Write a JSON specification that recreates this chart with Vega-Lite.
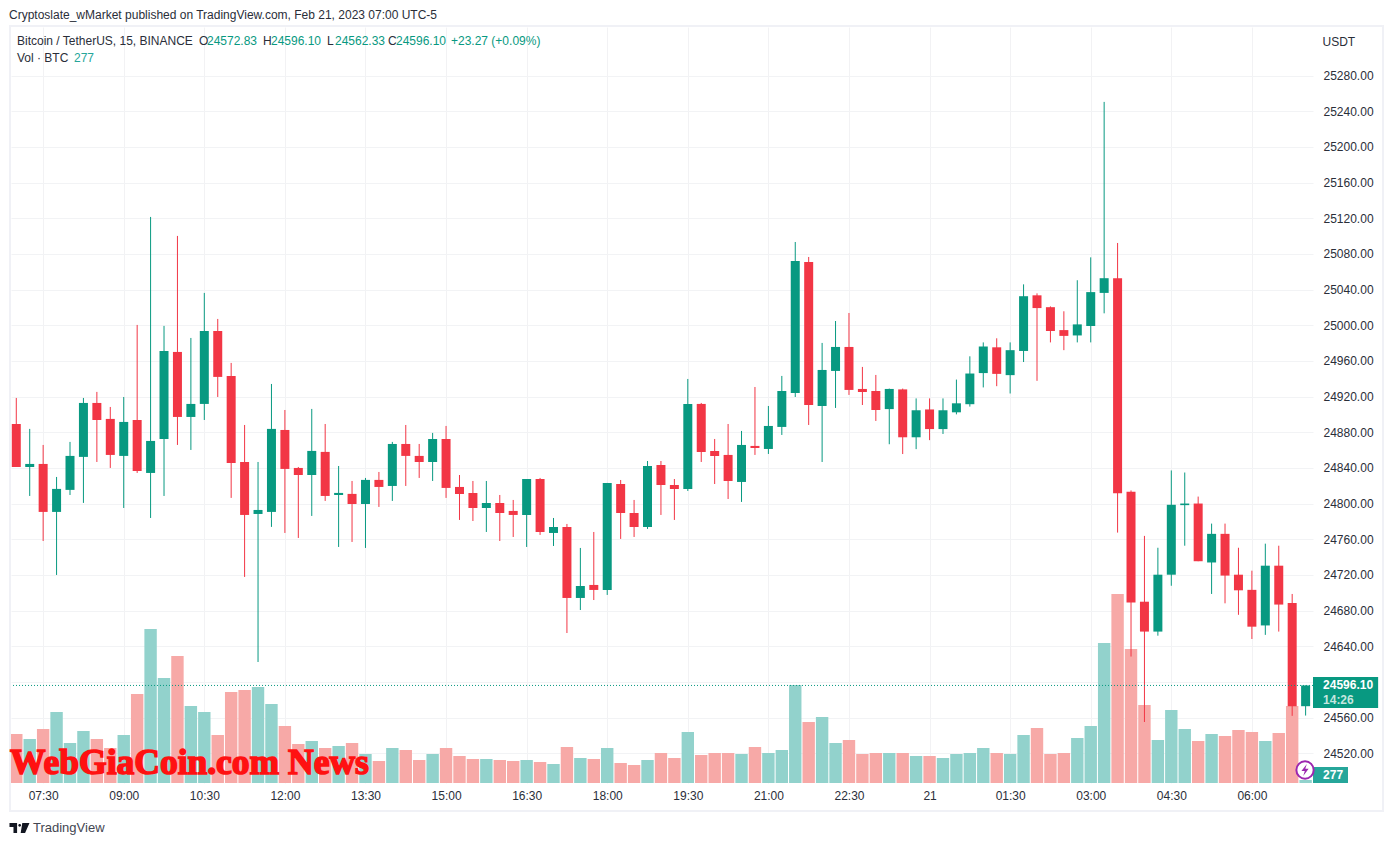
{"$schema":"https://vega.github.io/schema/vega-lite/v6.json","autosize":{"type":"none"},"padding":{"left":11,"top":27,"right":80,"bottom":63},"width":1302,"height":756,"background":"#ffffff","title":{"text":"Cryptoslate_wMarket published on TradingView.com, Feb 21, 2023 07:00 UTC-5","anchor":"start","frame":"group","offset":3,"dx":-2,"fontSize":12,"fontWeight":"normal","font":"Liberation Sans","color":"#2a2e39"},"config":{"view":{"stroke":null},"font":"Liberation Sans","axis":{"labelOverlap":false}},"datasets":{"candles":[
{"t":"2023-02-20T07:00:00Z","o":24889.3,"h":24918.5,"l":24841.1,"c":24841.1,"v":4508,"dir":"down"},
{"t":"2023-02-20T07:15:00Z","o":24841.1,"h":24883.8,"l":24808.6,"c":24844.5,"v":4048,"dir":"up"},
{"t":"2023-02-20T07:30:00Z","o":24844.5,"h":24865.8,"l":24758.1,"c":24790.7,"v":4968,"dir":"down"},
{"t":"2023-02-20T07:45:00Z","o":24790.7,"h":24829.9,"l":24720.0,"c":24816.5,"v":6532,"dir":"up"},
{"t":"2023-02-20T08:00:00Z","o":24815.4,"h":24869.2,"l":24809.7,"c":24853.5,"v":3680,"dir":"up"},
{"t":"2023-02-20T08:15:00Z","o":24852.4,"h":24918.5,"l":24800.8,"c":24912.9,"v":4784,"dir":"up"},
{"t":"2023-02-20T08:30:00Z","o":24912.9,"h":24925.3,"l":24846.7,"c":24893.8,"v":4048,"dir":"down"},
{"t":"2023-02-20T08:45:00Z","o":24895.0,"h":24908.4,"l":24840.0,"c":24854.6,"v":3220,"dir":"down"},
{"t":"2023-02-20T09:00:00Z","o":24853.5,"h":24919.6,"l":24795.1,"c":24891.6,"v":4416,"dir":"up"},
{"t":"2023-02-20T09:15:00Z","o":24893.8,"h":25000.4,"l":24834.4,"c":24836.6,"v":8188,"dir":"down"},
{"t":"2023-02-20T09:30:00Z","o":24834.4,"h":25121.5,"l":24783.9,"c":24870.3,"v":14168,"dir":"up"},
{"t":"2023-02-20T09:45:00Z","o":24872.5,"h":24999.3,"l":24808.6,"c":24971.2,"v":9660,"dir":"up"},
{"t":"2023-02-20T10:00:00Z","o":24970.1,"h":25100.2,"l":24865.8,"c":24897.2,"v":11684,"dir":"down"},
{"t":"2023-02-20T10:15:00Z","o":24897.2,"h":24985.8,"l":24860.2,"c":24911.8,"v":7084,"dir":"up"},
{"t":"2023-02-20T10:30:00Z","o":24911.8,"h":25036.3,"l":24893.8,"c":24993.6,"v":6532,"dir":"up"},
{"t":"2023-02-20T10:45:00Z","o":24993.6,"h":25007.1,"l":24919.6,"c":24942.1,"v":4416,"dir":"down"},
{"t":"2023-02-20T11:00:00Z","o":24943.2,"h":24957.8,"l":24806.4,"c":24845.6,"v":8372,"dir":"down"},
{"t":"2023-02-20T11:15:00Z","o":24846.7,"h":24888.2,"l":24717.8,"c":24787.3,"v":8556,"dir":"down"},
{"t":"2023-02-20T11:30:00Z","o":24788.4,"h":24846.7,"l":24622.4,"c":24792.9,"v":8832,"dir":"up"},
{"t":"2023-02-20T11:45:00Z","o":24790.7,"h":24934.2,"l":24773.9,"c":24883.8,"v":7268,"dir":"up"},
{"t":"2023-02-20T12:00:00Z","o":24882.6,"h":24905.0,"l":24767.1,"c":24838.9,"v":5244,"dir":"down"},
{"t":"2023-02-20T12:15:00Z","o":24840.0,"h":24841.1,"l":24761.5,"c":24832.1,"v":3588,"dir":"down"},
{"t":"2023-02-20T12:30:00Z","o":24832.1,"h":24906.2,"l":24786.2,"c":24859.1,"v":3864,"dir":"up"},
{"t":"2023-02-20T12:45:00Z","o":24858.0,"h":24889.3,"l":24803.0,"c":24808.6,"v":3220,"dir":"down"},
{"t":"2023-02-20T13:00:00Z","o":24809.7,"h":24842.2,"l":24751.4,"c":24812.0,"v":3404,"dir":"up"},
{"t":"2023-02-20T13:15:00Z","o":24810.9,"h":24825.4,"l":24757.0,"c":24799.6,"v":3680,"dir":"down"},
{"t":"2023-02-20T13:30:00Z","o":24799.6,"h":24828.8,"l":24750.3,"c":24826.6,"v":2668,"dir":"up"},
{"t":"2023-02-20T13:45:00Z","o":24826.6,"h":24835.5,"l":24796.3,"c":24818.7,"v":2024,"dir":"down"},
{"t":"2023-02-20T14:00:00Z","o":24819.8,"h":24869.2,"l":24803.0,"c":24866.9,"v":3220,"dir":"up"},
{"t":"2023-02-20T14:15:00Z","o":24866.9,"h":24888.2,"l":24819.8,"c":24853.5,"v":3036,"dir":"down"},
{"t":"2023-02-20T14:30:00Z","o":24853.5,"h":24866.9,"l":24828.8,"c":24846.7,"v":2116,"dir":"down"},
{"t":"2023-02-20T14:45:00Z","o":24846.7,"h":24879.3,"l":24825.4,"c":24872.5,"v":2668,"dir":"up"},
{"t":"2023-02-20T15:00:00Z","o":24872.5,"h":24887.1,"l":24806.4,"c":24817.6,"v":3220,"dir":"down"},
{"t":"2023-02-20T15:15:00Z","o":24818.7,"h":24832.1,"l":24781.7,"c":24810.8,"v":2484,"dir":"down"},
{"t":"2023-02-20T15:30:00Z","o":24811.9,"h":24825.4,"l":24780.5,"c":24795.1,"v":2208,"dir":"down"},
{"t":"2023-02-20T15:45:00Z","o":24795.1,"h":24825.4,"l":24768.2,"c":24800.7,"v":2208,"dir":"up"},
{"t":"2023-02-20T16:00:00Z","o":24800.7,"h":24809.7,"l":24758.1,"c":24789.5,"v":2116,"dir":"down"},
{"t":"2023-02-20T16:15:00Z","o":24791.8,"h":24804.1,"l":24762.6,"c":24787.3,"v":2024,"dir":"down"},
{"t":"2023-02-20T16:30:00Z","o":24787.3,"h":24827.6,"l":24751.4,"c":24827.6,"v":2116,"dir":"up"},
{"t":"2023-02-20T16:45:00Z","o":24827.6,"h":24828.8,"l":24764.9,"c":24768.2,"v":1932,"dir":"down"},
{"t":"2023-02-20T17:00:00Z","o":24767.1,"h":24783.9,"l":24752.5,"c":24773.8,"v":1748,"dir":"up"},
{"t":"2023-02-20T17:15:00Z","o":24773.8,"h":24777.2,"l":24654.9,"c":24694.2,"v":3312,"dir":"down"},
{"t":"2023-02-20T17:30:00Z","o":24694.2,"h":24750.3,"l":24680.7,"c":24707.6,"v":2300,"dir":"up"},
{"t":"2023-02-20T17:45:00Z","o":24708.8,"h":24768.2,"l":24691.9,"c":24703.2,"v":2208,"dir":"down"},
{"t":"2023-02-20T18:00:00Z","o":24703.2,"h":24823.2,"l":24697.6,"c":24823.2,"v":3220,"dir":"up"},
{"t":"2023-02-20T18:15:00Z","o":24822.0,"h":24826.5,"l":24760.4,"c":24789.5,"v":1840,"dir":"down"},
{"t":"2023-02-20T18:30:00Z","o":24789.5,"h":24804.1,"l":24762.6,"c":24773.8,"v":1656,"dir":"down"},
{"t":"2023-02-20T18:45:00Z","o":24773.8,"h":24847.8,"l":24771.6,"c":24842.2,"v":2116,"dir":"up"},
{"t":"2023-02-20T19:00:00Z","o":24843.3,"h":24847.8,"l":24787.3,"c":24820.9,"v":2760,"dir":"down"},
{"t":"2023-02-20T19:15:00Z","o":24820.9,"h":24827.6,"l":24781.7,"c":24816.4,"v":2300,"dir":"down"},
{"t":"2023-02-20T19:30:00Z","o":24816.4,"h":24939.8,"l":24814.2,"c":24911.8,"v":4692,"dir":"up"},
{"t":"2023-02-20T19:45:00Z","o":24911.8,"h":24912.9,"l":24846.7,"c":24857.9,"v":2576,"dir":"down"},
{"t":"2023-02-20T20:00:00Z","o":24859.0,"h":24872.5,"l":24822.0,"c":24853.4,"v":2760,"dir":"down"},
{"t":"2023-02-20T20:15:00Z","o":24854.6,"h":24889.3,"l":24805.2,"c":24825.4,"v":2760,"dir":"down"},
{"t":"2023-02-20T20:30:00Z","o":24824.3,"h":24881.5,"l":24801.9,"c":24865.8,"v":2668,"dir":"up"},
{"t":"2023-02-20T20:45:00Z","o":24864.7,"h":24930.8,"l":24854.6,"c":24862.4,"v":3312,"dir":"down"},
{"t":"2023-02-20T21:00:00Z","o":24861.3,"h":24909.5,"l":24855.7,"c":24887.1,"v":2760,"dir":"up"},
{"t":"2023-02-20T21:15:00Z","o":24886.0,"h":24943.2,"l":24877.0,"c":24926.3,"v":3036,"dir":"up"},
{"t":"2023-02-20T21:30:00Z","o":24924.1,"h":25093.4,"l":24919.6,"c":25072.1,"v":9016,"dir":"up"},
{"t":"2023-02-20T21:45:00Z","o":25071.0,"h":25076.6,"l":24888.2,"c":24910.6,"v":5612,"dir":"down"},
{"t":"2023-02-20T22:00:00Z","o":24909.5,"h":24980.2,"l":24846.7,"c":24949.9,"v":6072,"dir":"up"},
{"t":"2023-02-20T22:15:00Z","o":24948.8,"h":25004.8,"l":24907.3,"c":24975.7,"v":3680,"dir":"up"},
{"t":"2023-02-20T22:30:00Z","o":24975.7,"h":25013.8,"l":24921.9,"c":24927.5,"v":3956,"dir":"down"},
{"t":"2023-02-20T22:45:00Z","o":24928.6,"h":24953.3,"l":24910.6,"c":24925.2,"v":2668,"dir":"down"},
{"t":"2023-02-20T23:00:00Z","o":24926.3,"h":24944.3,"l":24892.7,"c":24905.0,"v":2760,"dir":"down"},
{"t":"2023-02-20T23:15:00Z","o":24906.0,"h":24929.0,"l":24866.6,"c":24928.6,"v":2760,"dir":"up"},
{"t":"2023-02-20T23:30:00Z","o":24928.1,"h":24929.0,"l":24855.6,"c":24874.4,"v":2760,"dir":"down"},
{"t":"2023-02-20T23:45:00Z","o":24874.4,"h":24918.0,"l":24861.1,"c":24904.7,"v":2484,"dir":"up"},
{"t":"2023-02-21T00:00:00Z","o":24905.6,"h":24918.0,"l":24871.2,"c":24883.6,"v":2484,"dir":"down"},
{"t":"2023-02-21T00:15:00Z","o":24883.6,"h":24918.0,"l":24878.1,"c":24904.7,"v":2300,"dir":"up"},
{"t":"2023-02-21T00:30:00Z","o":24902.4,"h":24939.1,"l":24900.1,"c":24912.5,"v":2668,"dir":"up"},
{"t":"2023-02-21T00:45:00Z","o":24911.5,"h":24965.2,"l":24908.8,"c":24945.9,"v":2760,"dir":"up"},
{"t":"2023-02-21T01:00:00Z","o":24946.4,"h":24980.8,"l":24930.3,"c":24976.2,"v":3220,"dir":"up"},
{"t":"2023-02-21T01:15:00Z","o":24975.3,"h":24985.4,"l":24931.7,"c":24945.5,"v":2760,"dir":"down"},
{"t":"2023-02-21T01:30:00Z","o":24944.1,"h":24980.8,"l":24923.5,"c":24972.1,"v":2668,"dir":"up"},
{"t":"2023-02-21T01:45:00Z","o":24971.2,"h":25045.9,"l":24958.8,"c":25032.6,"v":4416,"dir":"up"},
{"t":"2023-02-21T02:00:00Z","o":25033.6,"h":25035.8,"l":24937.7,"c":25019.3,"v":5060,"dir":"down"},
{"t":"2023-02-21T02:15:00Z","o":25020.3,"h":25021.2,"l":24980.8,"c":24993.6,"v":2668,"dir":"down"},
{"t":"2023-02-21T02:30:00Z","o":24994.6,"h":25015.7,"l":24972.1,"c":24988.1,"v":2760,"dir":"down"},
{"t":"2023-02-21T02:45:00Z","o":24988.6,"h":25050.5,"l":24980.8,"c":25001.0,"v":4140,"dir":"up"},
{"t":"2023-02-21T03:00:00Z","o":24999.2,"h":25076.2,"l":24980.8,"c":25037.2,"v":5244,"dir":"up"},
{"t":"2023-02-21T03:15:00Z","o":25036.3,"h":25250.5,"l":25013.4,"c":25052.8,"v":12880,"dir":"up"},
{"t":"2023-02-21T03:30:00Z","o":25052.8,"h":25092.3,"l":24767.5,"c":24811.5,"v":17388,"dir":"down"},
{"t":"2023-02-21T03:45:00Z","o":24813.4,"h":24814.8,"l":24628.5,"c":24689.1,"v":12328,"dir":"down"},
{"t":"2023-02-21T04:00:00Z","o":24690.0,"h":24763.8,"l":24555.1,"c":24656.5,"v":7176,"dir":"down"},
{"t":"2023-02-21T04:15:00Z","o":24656.5,"h":24750.5,"l":24651.9,"c":24720.3,"v":3956,"dir":"up"},
{"t":"2023-02-21T04:30:00Z","o":24720.3,"h":24837.2,"l":24707.9,"c":24798.7,"v":6716,"dir":"up"},
{"t":"2023-02-21T04:45:00Z","o":24798.3,"h":24834.9,"l":24752.8,"c":24800.1,"v":4968,"dir":"up"},
{"t":"2023-02-21T05:00:00Z","o":24800.1,"h":24807.9,"l":24735.4,"c":24735.4,"v":3864,"dir":"down"},
{"t":"2023-02-21T05:15:00Z","o":24734.0,"h":24777.6,"l":24698.7,"c":24766.1,"v":4508,"dir":"up"},
{"t":"2023-02-21T05:30:00Z","o":24766.1,"h":24777.6,"l":24688.2,"c":24719.3,"v":4324,"dir":"down"},
{"t":"2023-02-21T05:45:00Z","o":24720.3,"h":24750.5,"l":24675.3,"c":24702.8,"v":4876,"dir":"down"},
{"t":"2023-02-21T06:00:00Z","o":24703.3,"h":24724.8,"l":24648.2,"c":24662.0,"v":4692,"dir":"down"},
{"t":"2023-02-21T06:15:00Z","o":24663.4,"h":24755.1,"l":24652.8,"c":24730.4,"v":3864,"dir":"up"},
{"t":"2023-02-21T06:30:00Z","o":24730.4,"h":24752.8,"l":24656.5,"c":24686.8,"v":4600,"dir":"down"},
{"t":"2023-02-21T06:45:00Z","o":24688.6,"h":24698.7,"l":24562.0,"c":24572.83,"v":7084,"dir":"down"},
{"t":"2023-02-21T07:00:00Z","o":24572.83,"h":24596.1,"l":24562.33,"c":24596.1,"v":277,"dir":"up"}
],"labels":[
{"t":1676876446910,"p":25318.8,"label":"Bitcoin / TetherUS, 15, BINANCE","tone":"ink"},
{"t":1676888643458,"p":25318.8,"label":"O","tone":"ink"},
{"t":1676889179570,"p":25318.8,"label":"24572.83","tone":"up"},
{"t":1676892932354,"p":25318.8,"label":"H","tone":"ink"},
{"t":1676893468466,"p":25318.8,"label":"24596.10","tone":"up"},
{"t":1676897221250,"p":25318.8,"label":"L","tone":"ink"},
{"t":1676897757362,"p":25318.8,"label":"24562.33","tone":"up"},
{"t":1676901309104,"p":25318.8,"label":"C","tone":"ink"},
{"t":1676901845216,"p":25318.8,"label":"24596.10","tone":"up"},
{"t":1676905530986,"p":25318.8,"label":"+23.27 (+0.09%)","tone":"up"},
{"t":1676876446910,"p":25299.8,"label":"Vol · BTC","tone":"ink"},
{"t":1676880266708,"p":25299.8,"label":"277","tone":"vol"}
],"brand":[{"t":1676877519134,"p":24436.3,"label":"TradingView"}],"tags":[
{"t":1676963967194,"p":24596.6,"label":"24596.10","tone":"white"},
{"t":1676963967194,"p":24579.8,"label":"14:26","tone":"mint"},
{"t":1676963967194,"p":24495.7,"label":"277","tone":"white"}
],"boxes":[
{"x0":1676963295000,"x1":1676967660000,"p0":24570.8,"p1":24605.6,"tone":"up"},
{"x0":1676963295000,"x1":1676965640000,"p0":24486.7,"p1":24504.7,"tone":"vol"}
],"frame":[{"x0":1676875978000,"x1":1676967987000,"p0":24455.3,"p1":25335.7}],
"mark":[{"t":1676875977812,"p":24509.1,"label":"WebGiaCoin.com News"}],
"last":[{"p":24596.1}],
"bolt":[{"t":1676962760942,"p":24501.3}],
"logo":[{"t":1676876614445,"p":24436.3}]
},"encoding":{"x":{"field":"t","type":"temporal","title":null,"scale":{"type":"utc","domain":[1676876046000,1676963295000],"padding":0},"axis":{"values":[1676878200000,1676883600000,1676889000000,1676894400000,1676899800000,1676905200000,1676910600000,1676916000000,1676921400000,1676926800000,1676932200000,1676937600000,1676943000000,1676948400000,1676953800000,1676959200000],"tickCount":40,"labelExpr":"utcFormat(datum.value,'%H:%M') == '00:00' ? '21' : utcFormat(datum.value,'%H:%M')","labelFontWeight":{"condition":{"test":"datum.value == 1676937600000","value":"bold"},"value":"normal"},"grid":true,"gridColor":"#f2f2f4","gridWidth":1,"domain":false,"ticks":false,"labelPadding":7,"labelFontSize":12,"labelColor":"#2a2e39","labelOverlap":false,"labelFlush":false,"labelFont":"Liberation Sans"}}},"layer":[
{"data":{"name":"candles"},"mark":{"type":"bar","width":12.4},"encoding":{"y":{"field":"v","type":"quantitative","scale":{"domain":[0,69552],"nice":false,"zero":true},"axis":null},"color":{"field":"dir","type":"nominal","legend":null,"scale":{"domain":["up","down"],"range":["#92d2cc","#f7a9a7"]}}}},
{"layer":[
{"data":{"name":"frame"},"mark":{"type":"rect","fill":null,"filled":false,"stroke":"#f0f1f6","strokeWidth":2},"encoding":{"x":{"field":"x0","type":"temporal"},"x2":{"field":"x1"},"y":{"field":"p0","type":"quantitative","title":null,"scale":{"domain":[24486.7,25334.5],"nice":false,"zero":false},"axis":{"orient":"right","values":[24520,24560,24600,24640,24680,24720,24760,24800,24840,24880,24920,24960,25000,25040,25080,25120,25160,25200,25240,25280],"tickCount":40,"labelExpr":"datum.value == 24600 ? '' : format(datum.value,'.2f')","grid":true,"gridColor":"#f2f3f5","gridWidth":1,"domain":false,"ticks":false,"labelPadding":10,"labelFontSize":12,"labelColor":"#2a2e39","labelFont":"Liberation Sans","labelOverlap":false,"labelFlush":false,"title":"USDT","titleAngle":0,"titleAlign":"left","titleBaseline":"middle","titleX":9,"titleY":14,"titleFontSize":12,"titleFontWeight":"normal","titleColor":"#2a2e39","titleFont":"Liberation Sans"}},"y2":{"field":"p1"}}},
{"data":{"name":"candles"},"mark":{"type":"rule","strokeWidth":1},"encoding":{"y":{"field":"l","type":"quantitative"},"y2":{"field":"h"},"color":{"field":"dir","type":"nominal","legend":null,"scale":{"domain":["up","down","ink","vol","white","mint"],"range":["#089981","#f23645","#2a2e39","#26a69a","#ffffff","#c4e6df"]}}}},
{"data":{"name":"candles"},"mark":{"type":"bar","width":9},"encoding":{"y":{"field":"o","type":"quantitative"},"y2":{"field":"c"},"color":{"field":"dir","type":"nominal","legend":null}}},
{"data":{"name":"last"},"mark":{"type":"rule","stroke":"#089981","strokeWidth":1,"strokeDash":[1,2]},"encoding":{"x":null,"y":{"field":"p","type":"quantitative"}}},
{"data":{"name":"boxes"},"mark":{"type":"rect"},"encoding":{"x":{"field":"x0","type":"temporal"},"x2":{"field":"x1"},"y":{"field":"p0","type":"quantitative"},"y2":{"field":"p1"},"color":{"field":"tone","type":"nominal","legend":null}}},
{"data":{"name":"labels"},"mark":{"type":"text","align":"left","baseline":"middle","fontSize":12,"font":"Liberation Sans"},"encoding":{"y":{"field":"p","type":"quantitative"},"text":{"field":"label"},"color":{"field":"tone","type":"nominal","legend":null}}},
{"data":{"name":"brand"},"mark":{"type":"text","align":"left","baseline":"middle","fontSize":13,"font":"Liberation Sans","color":"#434651"},"encoding":{"y":{"field":"p","type":"quantitative"},"text":{"field":"label"}}},
{"data":{"name":"tags"},"mark":{"type":"text","align":"left","baseline":"middle","fontSize":12,"fontWeight":"bold","font":"Liberation Sans"},"encoding":{"y":{"field":"p","type":"quantitative"},"text":{"field":"label"},"color":{"field":"tone","type":"nominal","legend":null}}},
{"data":{"name":"mark"},"mark":{"type":"text","align":"left","baseline":"middle","fontSize":35.5,"fontWeight":"bold","font":"Liberation Serif","color":"#ff1111","stroke":"#ff1111","strokeWidth":1.6},"encoding":{"y":{"field":"p","type":"quantitative"},"text":{"field":"label"}}},
{"data":{"name":"bolt"},"mark":{"type":"point","shape":"circle","filled":true,"fill":"#ffffff","stroke":"#9c27b0","strokeWidth":2,"size":300,"opacity":1},"encoding":{"y":{"field":"p","type":"quantitative"}}},
{"data":{"name":"bolt"},"mark":{"type":"point","shape":"M0.15,-0.5 L-0.3,0.08 L-0.02,0.08 L-0.15,0.5 L0.3,-0.1 L0.02,-0.1 Z","filled":true,"fill":"#9c27b0","size":576,"opacity":1,"strokeWidth":0},"encoding":{"y":{"field":"p","type":"quantitative"}}},
{"data":{"name":"logo"},"mark":{"type":"point","shape":"M-0.5,-0.25 H-0.12 V0.25 H-0.3 V-0.05 H-0.5 Z M-0.06,-0.13 A0.07,0.07 0 1 0 0.08,-0.13 A0.07,0.07 0 1 0 -0.06,-0.13 Z M0.14,-0.25 H0.5 L0.28,0.25 H0.06 Z","filled":true,"fill":"#131722","size":1600,"opacity":1,"strokeWidth":0},"encoding":{"y":{"field":"p","type":"quantitative"}}}
]}
],"resolve":{"scale":{"y":"independent","color":"independent"}}}
